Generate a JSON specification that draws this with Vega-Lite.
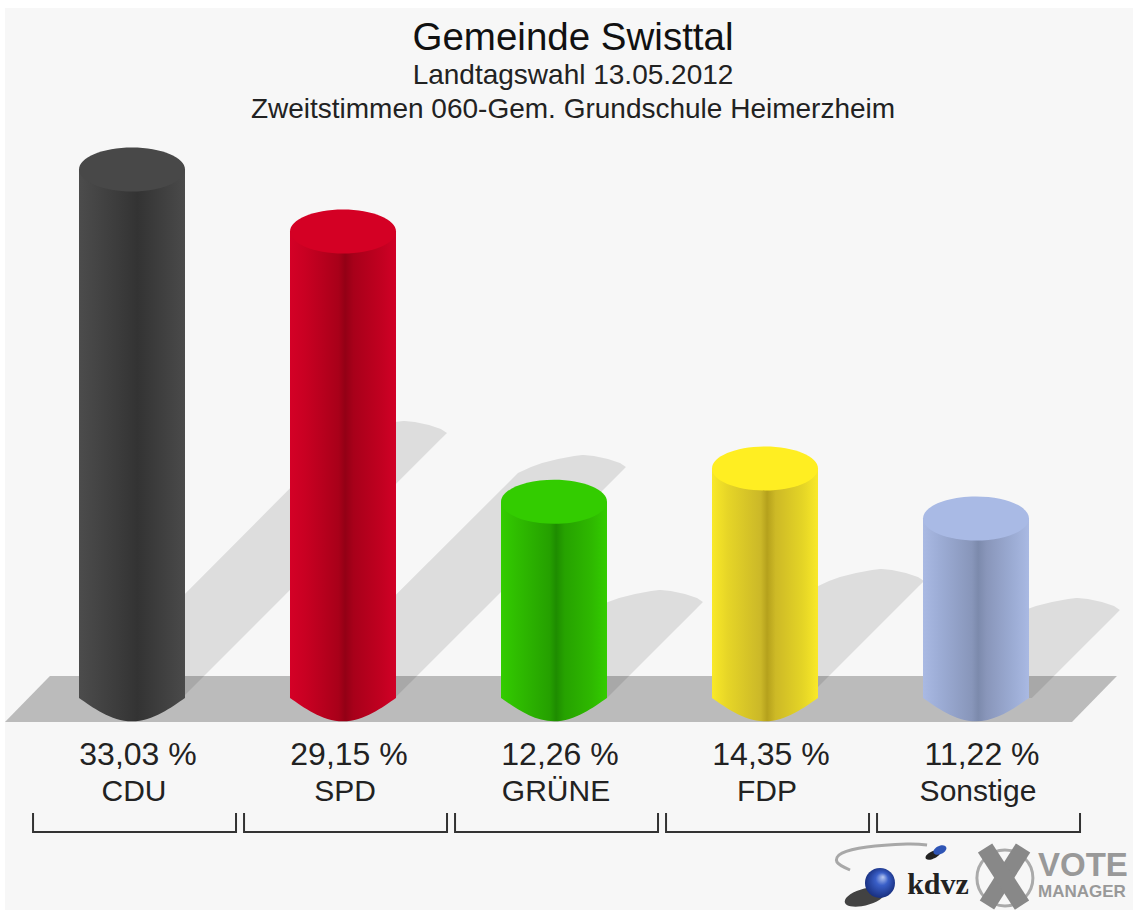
{
"$schema":"https://vega.github.io/schema/vega-lite/v6.json",
"width":1133,"height":911,"padding":0,"autosize":{"type":"none"},"background":"#ffffff",
"config":{"view":{"stroke":null},"font":"Liberation Sans","axis":{"disable":true}},
"title":{"text":"Gemeinde Swisttal","subtitle":["Landtagswahl 13.05.2012","Zweitstimmen 060-Gem. Grundschule Heimerzheim"],"anchor":"middle","frame":"group","font":"Liberation Sans","fontSize":38.5,"fontWeight":"normal","color":"#111111","subtitleFont":"Liberation Sans","subtitleFontSize":28,"subtitleColor":"#222222","subtitlePadding":4,"subtitleLineHeight":34,"offset":-125,"dx":6.5},
"datasets":{
"bars":[
{"party":"CDU","pos":1,"value":33.03,"label":"33,03 %"},
{"party":"SPD","pos":2,"value":29.15,"label":"29,15 %"},
{"party":"GRÜNE","pos":3,"value":12.26,"label":"12,26 %"},
{"party":"FDP","pos":4,"value":14.35,"label":"14,35 %"},
{"party":"Sonstige","pos":5,"value":11.22,"label":"11,22 %"}],
"shadows":[
{"party":"CDU","v":0,"xl":0.76,"xr":1.237},{"party":"CDU","v":16.19,"xl":1.981,"xr":2.464},{"party":"CDU","v":16.56,"xl":2.043,"xr":2.493},{"party":"CDU","v":16.81,"xl":2.095,"xr":2.464},{"party":"CDU","v":17.06,"xl":2.171,"xr":2.408},{"party":"CDU","v":17.25,"xl":2.246,"xr":2.341},{"party":"CDU","v":17.31,"xl":2.284,"xr":2.294},
{"party":"SPD","v":0,"xl":1.76,"xr":2.246},{"party":"SPD","v":14.06,"xl":2.829,"xr":3.313},{"party":"SPD","v":14.44,"xl":2.891,"xr":3.341},{"party":"SPD","v":14.69,"xl":2.943,"xr":3.313},{"party":"SPD","v":14.94,"xl":3.019,"xr":3.256},{"party":"SPD","v":15.13,"xl":3.095,"xr":3.19},{"party":"SPD","v":15.19,"xl":3.133,"xr":3.142},
{"party":"GRÜNE","v":0,"xl":2.76,"xr":3.251},{"party":"GRÜNE","v":5.63,"xl":3.194,"xr":3.678},{"party":"GRÜNE","v":6.0,"xl":3.256,"xr":3.706},{"party":"GRÜNE","v":6.25,"xl":3.308,"xr":3.678},{"party":"GRÜNE","v":6.5,"xl":3.384,"xr":3.621},{"party":"GRÜNE","v":6.69,"xl":3.46,"xr":3.554},{"party":"GRÜNE","v":6.75,"xl":3.498,"xr":3.507},
{"party":"FDP","v":0,"xl":3.76,"xr":4.199},{"party":"FDP","v":6.94,"xl":4.242,"xr":4.725},{"party":"FDP","v":7.31,"xl":4.303,"xr":4.754},{"party":"FDP","v":7.56,"xl":4.355,"xr":4.725},{"party":"FDP","v":7.81,"xl":4.431,"xr":4.668},{"party":"FDP","v":8.0,"xl":4.507,"xr":4.602},{"party":"FDP","v":8.06,"xl":4.545,"xr":4.555},
{"party":"Sonstige","v":0,"xl":4.77,"xr":5.265},{"party":"Sonstige","v":5.13,"xl":5.171,"xr":5.654},{"party":"Sonstige","v":5.5,"xl":5.232,"xr":5.682},{"party":"Sonstige","v":5.75,"xl":5.284,"xr":5.654},{"party":"Sonstige","v":6.0,"xl":5.36,"xr":5.597},{"party":"Sonstige","v":6.19,"xl":5.436,"xr":5.531},{"party":"Sonstige","v":6.25,"xl":5.474,"xr":5.483}],
"brackets":[
{"party":"CDU","k":1,"p":0.531,"v":-7.19},{"party":"CDU","k":2,"p":0.531,"v":-8.375},{"party":"CDU","k":3,"p":1.493,"v":-8.375},{"party":"CDU","k":4,"p":1.493,"v":-7.19},
{"party":"SPD","k":1,"p":1.531,"v":-7.19},{"party":"SPD","k":2,"p":1.531,"v":-8.375},{"party":"SPD","k":3,"p":2.493,"v":-8.375},{"party":"SPD","k":4,"p":2.493,"v":-7.19},
{"party":"GRÜNE","k":1,"p":2.531,"v":-7.19},{"party":"GRÜNE","k":2,"p":2.531,"v":-8.375},{"party":"GRÜNE","k":3,"p":3.493,"v":-8.375},{"party":"GRÜNE","k":4,"p":3.493,"v":-7.19},
{"party":"FDP","k":1,"p":3.531,"v":-7.19},{"party":"FDP","k":2,"p":3.531,"v":-8.375},{"party":"FDP","k":3,"p":4.493,"v":-8.375},{"party":"FDP","k":4,"p":4.493,"v":-7.19},
{"party":"Sonstige","k":1,"p":4.531,"v":-7.19},{"party":"Sonstige","k":2,"p":4.531,"v":-8.375},{"party":"Sonstige","k":3,"p":5.493,"v":-8.375},{"party":"Sonstige","k":4,"p":5.493,"v":-7.19}]
},
"encoding":{
"x":{"field":"p","type":"quantitative","title":null,"scale":{"domain":[0.37441,5.74408],"nice":false,"zero":false,"padding":0}}
},
"layer":[
{"encoding":{"y":{"field":"v","type":"quantitative","title":null,"scale":{"domain":[-13.3125,43.625],"nice":false,"zero":false,"padding":0}}},"layer":[
{"data":{"values":[{"p":0.398,"p2":5.74408,"v":43.125,"v2":-13.25}]},"mark":{"type":"rect","fill":"#f7f7f7"},"encoding":{"x2":{"field":"p2"},"y2":{"field":"v2"}}},
{"data":{"values":[{"p":0.398,"v":-1.5,"v2":-1.5},{"p":0.611,"v":1.375,"v2":-1.5},{"p":5.455,"v":1.375,"v2":-1.5},{"p":5.668,"v":1.375,"v2":1.375}]},"mark":{"type":"area","fill":"#bbbbbb","orient":"vertical"},"encoding":{"y2":{"field":"v2"}}},
{"data":{"name":"shadows"},"mark":{"type":"area","orient":"horizontal","fill":"#000000","fillOpacity":0.1},"encoding":{"x":{"field":"xl","type":"quantitative"},"x2":{"field":"xr"},"detail":{"field":"party"}}}
]},
{"data":{"name":"bars"},"transform":[{"filter":"datum.party=='CDU'"}],"encoding":{"x":{"field":"pos","type":"quantitative"}},"layer":[
 {"mark":{"type":"point","filled":true,"opacity":1,"size":11236,"shape":"M-1,0 C-0.75,0.17 -0.4,0.44 0,0.44 C0.4,0.44 0.75,0.17 1,0 L1,-0.05 L-1,-0.05 Z","fill":{"gradient":"linear","x1":0,"x2":1,"y1":0,"y2":0,"stops":[{"offset":0,"color":"#4c4c4c"},{"offset":0.45,"color":"#383838"},{"offset":0.55,"color":"#333333"},{"offset":1,"color":"#4a4a4a"}]}},"encoding":{"y":{"datum":0,"type":"quantitative"}}},
 {"mark":{"type":"bar","size":106,"orient":"vertical","fill":{"gradient":"linear","x1":0,"x2":1,"y1":0,"y2":0,"stops":[{"offset":0,"color":"#4c4c4c"},{"offset":0.45,"color":"#383838"},{"offset":0.55,"color":"#333333"},{"offset":1,"color":"#4a4a4a"}]}},"encoding":{"y":{"field":"value","type":"quantitative"},"y2":{"datum":0}}}
]},
{"data":{"name":"bars"},"transform":[{"filter":"datum.party=='SPD'"}],"encoding":{"x":{"field":"pos","type":"quantitative"}},"layer":[
 {"mark":{"type":"point","filled":true,"opacity":1,"size":11236,"shape":"M-1,0 C-0.75,0.17 -0.4,0.44 0,0.44 C0.4,0.44 0.75,0.17 1,0 L1,-0.05 L-1,-0.05 Z","fill":{"gradient":"linear","x1":0,"x2":1,"y1":0,"y2":0,"stops":[{"offset":0,"color":"#d40026"},{"offset":0.15,"color":"#c80022"},{"offset":0.46,"color":"#a80019"},{"offset":0.52,"color":"#930015"},{"offset":0.6,"color":"#a8001a"},{"offset":0.85,"color":"#c00020"},{"offset":1,"color":"#d10026"}]}},"encoding":{"y":{"datum":0,"type":"quantitative"}}},
 {"mark":{"type":"bar","size":106,"orient":"vertical","fill":{"gradient":"linear","x1":0,"x2":1,"y1":0,"y2":0,"stops":[{"offset":0,"color":"#d40026"},{"offset":0.15,"color":"#c80022"},{"offset":0.46,"color":"#a80019"},{"offset":0.52,"color":"#930015"},{"offset":0.6,"color":"#a8001a"},{"offset":0.85,"color":"#c00020"},{"offset":1,"color":"#d10026"}]}},"encoding":{"y":{"field":"value","type":"quantitative"},"y2":{"datum":0}}}
]},
{"data":{"name":"bars"},"transform":[{"filter":"datum.party=='GRÜNE'"}],"encoding":{"x":{"field":"pos","type":"quantitative"}},"layer":[
 {"mark":{"type":"point","filled":true,"opacity":1,"size":11236,"shape":"M-1,0 C-0.75,0.17 -0.4,0.44 0,0.44 C0.4,0.44 0.75,0.17 1,0 L1,-0.05 L-1,-0.05 Z","fill":{"gradient":"linear","x1":0,"x2":1,"y1":0,"y2":0,"stops":[{"offset":0,"color":"#33cc00"},{"offset":0.15,"color":"#2fbd00"},{"offset":0.46,"color":"#25a000"},{"offset":0.52,"color":"#1e8c00"},{"offset":0.6,"color":"#26a200"},{"offset":0.85,"color":"#2eb800"},{"offset":1,"color":"#33cc00"}]}},"encoding":{"y":{"datum":0,"type":"quantitative"}}},
 {"mark":{"type":"bar","size":106,"orient":"vertical","fill":{"gradient":"linear","x1":0,"x2":1,"y1":0,"y2":0,"stops":[{"offset":0,"color":"#33cc00"},{"offset":0.15,"color":"#2fbd00"},{"offset":0.46,"color":"#25a000"},{"offset":0.52,"color":"#1e8c00"},{"offset":0.6,"color":"#26a200"},{"offset":0.85,"color":"#2eb800"},{"offset":1,"color":"#33cc00"}]}},"encoding":{"y":{"field":"value","type":"quantitative"},"y2":{"datum":0}}}
]},
{"data":{"name":"bars"},"transform":[{"filter":"datum.party=='FDP'"}],"encoding":{"x":{"field":"pos","type":"quantitative"}},"layer":[
 {"mark":{"type":"point","filled":true,"opacity":1,"size":11236,"shape":"M-1,0 C-0.75,0.17 -0.4,0.44 0,0.44 C0.4,0.44 0.75,0.17 1,0 L1,-0.05 L-1,-0.05 Z","fill":{"gradient":"linear","x1":0,"x2":1,"y1":0,"y2":0,"stops":[{"offset":0,"color":"#f9e928"},{"offset":0.15,"color":"#e6d527"},{"offset":0.46,"color":"#cbb828"},{"offset":0.52,"color":"#b5a11c"},{"offset":0.6,"color":"#cdb926"},{"offset":0.85,"color":"#e4d426"},{"offset":1,"color":"#f9e928"}]}},"encoding":{"y":{"datum":0,"type":"quantitative"}}},
 {"mark":{"type":"bar","size":106,"orient":"vertical","fill":{"gradient":"linear","x1":0,"x2":1,"y1":0,"y2":0,"stops":[{"offset":0,"color":"#f9e928"},{"offset":0.15,"color":"#e6d527"},{"offset":0.46,"color":"#cbb828"},{"offset":0.52,"color":"#b5a11c"},{"offset":0.6,"color":"#cdb926"},{"offset":0.85,"color":"#e4d426"},{"offset":1,"color":"#f9e928"}]}},"encoding":{"y":{"field":"value","type":"quantitative"},"y2":{"datum":0}}}
]},
{"data":{"name":"bars"},"transform":[{"filter":"datum.party=='Sonstige'"}],"encoding":{"x":{"field":"pos","type":"quantitative"}},"layer":[
 {"mark":{"type":"point","filled":true,"opacity":1,"size":11236,"shape":"M-1,0 C-0.75,0.17 -0.4,0.44 0,0.44 C0.4,0.44 0.75,0.17 1,0 L1,-0.05 L-1,-0.05 Z","fill":{"gradient":"linear","x1":0,"x2":1,"y1":0,"y2":0,"stops":[{"offset":0,"color":"#a9b9e3"},{"offset":0.15,"color":"#9dadd6"},{"offset":0.46,"color":"#8896ba"},{"offset":0.52,"color":"#7c8aac"},{"offset":0.6,"color":"#8996ba"},{"offset":0.85,"color":"#9cacd4"},{"offset":1,"color":"#a9b9e3"}]}},"encoding":{"y":{"datum":0,"type":"quantitative"}}},
 {"mark":{"type":"bar","size":106,"orient":"vertical","fill":{"gradient":"linear","x1":0,"x2":1,"y1":0,"y2":0,"stops":[{"offset":0,"color":"#a9b9e3"},{"offset":0.15,"color":"#9dadd6"},{"offset":0.46,"color":"#8896ba"},{"offset":0.52,"color":"#7c8aac"},{"offset":0.6,"color":"#8996ba"},{"offset":0.85,"color":"#9cacd4"},{"offset":1,"color":"#a9b9e3"}]}},"encoding":{"y":{"field":"value","type":"quantitative"},"y2":{"datum":0}}}
]},
{"data":{"name":"bars"},"mark":{"type":"point","filled":true,"opacity":1,"size":11236,"shape":"M-1,0 A1,0.415 0 1 1 1,0 A1,0.415 0 1 1 -1,0 Z"},
"encoding":{"x":{"field":"pos","type":"quantitative"},"y":{"field":"value","type":"quantitative"},"color":{"field":"party","type":"nominal","legend":null,"scale":{"domain":["CDU","SPD","GRÜNE","FDP","Sonstige"],"range":["#484848","#d40024","#33cc00","#ffee22","#a9bae5"]}}}},
{"data":{"name":"bars"},"mark":{"type":"text","font":"Liberation Sans","fontSize":32,"color":"#222222","dx":6,"dy":1,"baseline":"middle"},"encoding":{"x":{"field":"pos","type":"quantitative"},"y":{"datum":-3.5,"type":"quantitative"},"text":{"field":"label"}}},
{"data":{"name":"bars"},"mark":{"type":"text","font":"Liberation Sans","fontSize":30,"color":"#222222","dx":2,"baseline":"middle"},"encoding":{"x":{"field":"pos","type":"quantitative"},"y":{"datum":-5.875,"type":"quantitative"},"text":{"field":"party"}}},
{"encoding":{"y":{"field":"v","type":"quantitative","title":null}},"layer":[
{"data":{"name":"brackets"},"mark":{"type":"line","color":"#333333","strokeWidth":2,"strokeJoin":"miter"},"encoding":{"detail":{"field":"party"},"order":{"field":"k"}}},
{"data":{"values":[{"k":1,"p":4.403,"v":-10.75},{"k":2,"p":4.341,"v":-10.25},{"k":3,"p":4.365,"v":-9.69},{"k":4,"p":4.483,"v":-9.31},{"k":5,"p":4.673,"v":-9.125},{"k":6,"p":4.768,"v":-9.19}]},"mark":{"type":"line","color":"#a8a8a8","strokeWidth":3,"interpolate":"cardinal"},"encoding":{"order":{"field":"k"}}},
{"data":{"values":[{"p":4.796,"v":-9.81}]},"mark":{"type":"point","filled":true,"opacity":1,"color":"#222222","size":220,"shape":"M-1,0.3 A1,0.45 -25 1 1 1,-0.3 A1,0.45 -25 1 1 -1,0.3 Z"}},
{"data":{"values":[{"p":4.829,"v":-9.5}]},"mark":{"type":"point","filled":true,"opacity":1,"color":"#2f55b5","size":170,"shape":"M-1,0.3 A1,0.6 -25 1 1 1,-0.3 A1,0.6 -25 1 1 -1,0.3 Z"}},
{"data":{"values":[{"p":4.474,"v":-12.44}]},"mark":{"type":"point","filled":true,"opacity":0.85,"color":"#222222","size":1600,"shape":"M-1,0.15 A1,0.4 -15 1 1 1,-0.15 A1,0.4 -15 1 1 -1,0.15 Z"}},
{"data":{"values":[{"p":4.545,"v":-11.56}]},"mark":{"type":"point","filled":true,"opacity":1,"size":900,"fill":{"gradient":"radial","x1":0.6,"y1":0.3,"r1":0,"x2":0.5,"y2":0.5,"r2":0.6,"stops":[{"offset":0,"color":"#b8c8f0"},{"offset":0.35,"color":"#3a5fc8"},{"offset":1,"color":"#10246e"}]}}},
{"data":{"values":[{"p":4.82,"v":-11.69,"t":"kdvz"}]},"mark":{"type":"text","font":"Liberation Serif","fontWeight":"bold","fontSize":30,"color":"#222222","baseline":"middle"},"encoding":{"text":{"field":"t"}}},
{"data":{"values":[{"p":5.137,"v":-11.25}]},"mark":{"type":"point","filled":false,"opacity":1,"size":3136,"stroke":"#aaaaaa","strokeWidth":3}},
{"data":{"values":[{"s":"a","p":5.052,"v":-12.94},{"s":"a","p":5.223,"v":-9.375},{"s":"b","p":5.043,"v":-9.375},{"s":"b","p":5.218,"v":-12.94}]},"mark":{"type":"line","color":"#888888","strokeWidth":17},"encoding":{"detail":{"field":"s"},"order":{"field":"v"}}},
{"data":{"values":[{"p":5.294,"v":-10.5,"t":"VOTE"}]},"mark":{"type":"text","font":"Liberation Sans","fontWeight":"bold","fontSize":33,"color":"#999999","align":"left","baseline":"middle"},"encoding":{"text":{"field":"t"}}},
{"data":{"values":[{"p":5.294,"v":-12.125,"t":"MANAGER"}]},"mark":{"type":"text","font":"Liberation Sans","fontWeight":"bold","fontSize":17,"color":"#999999","align":"left","baseline":"middle"},"encoding":{"text":{"field":"t"}}}
]}
]
}
